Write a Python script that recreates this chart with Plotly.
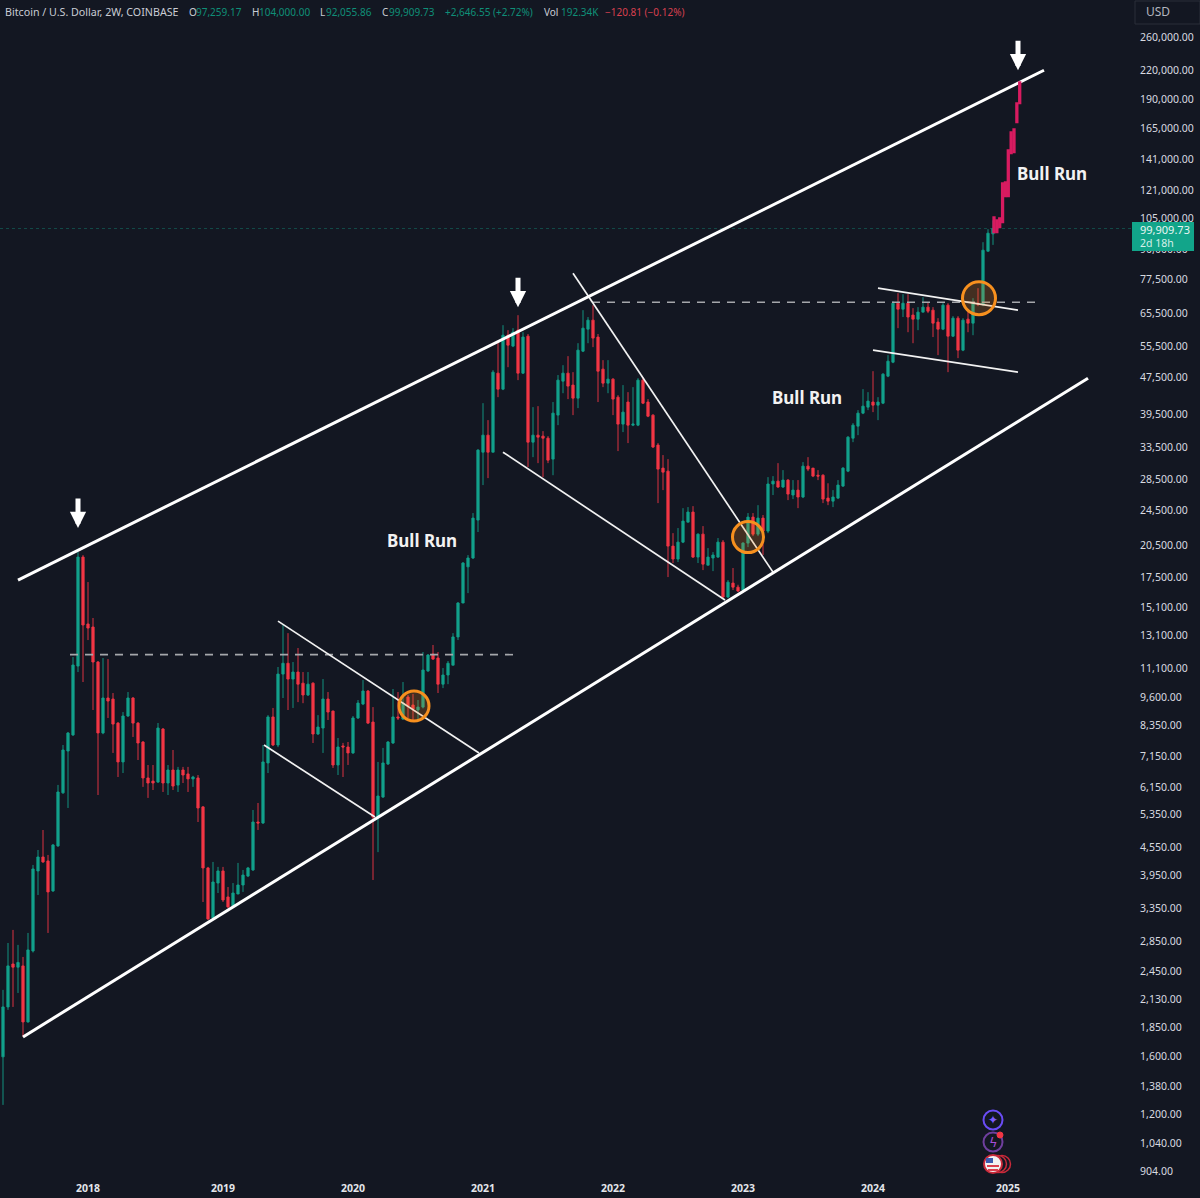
import numpy as np
import pandas as pd
import plotly.graph_objects as go

# ---------- candle data (2W BTC/USD) ----------
START = pd.Timestamp("2017-05-08")
STEP_DAYS = 14

opens = [
    1598,2050,2540,2500,2516,1902,2711,4042,4334,4249,
    3658,4580,5970,7356,7970,11240,19370,13870,13660,11470,
    8050,9585,9535,8455,6965,8760,9585,8455,7695,6430,
    6330,6300,8210,6270,6691,6205,6691,6560,6400,6430,
    5565,4103,3197,3805,4042,3550,3395,3602,3768,3940,
    4062,5160,5135,6930,8720,7580,10800,11400,10535,10910,
    10320,9730,10320,8007,8250,9535,8980,6860,7545,7505,
    7285,8675,9300,9925,8500,5290,5845,6895,7655,8720,
    8630,9630,9255,9026,9160,10970,11940,11700,10270,10750,
    11290,13000,15400,18450,19280,23300,32700,35600,32700,48520,
    44800,58640,55530,60136,48520,58360,34380,35600,35430,35070,
    31590,39350,46620,48520,45710,42830,54150,60440,63213,58100,
    49500,46160,47090,43040,37620,42000,37430,37430,46856,42000,
    39340,33880,30200,29750,20460,19180,20870,23060,24250,19370,
    21720,18600,19280,19370,20870,15870,17010,16670,16430,20770,
    23650,21720,23530,22050,27900,28300,27480,28447,26400,27060,
    26140,30500,30200,29150,29150,26000,25610,26000,27610,29750,
    35070,37240,39740,40950,42000,41360,41770,47800,51250,68790,
    66780,68790,64850,63530,65800,67460,66448,62600,60440,68130,
    58360,63850,54424,63530,62280,68790,68440,89200,97259.17,
]
highs = [
    2232,2821,3011,2794,2631,2966,4165,4488,4959,4378,
    4625,6210,7580,8090,11760,19860,19560,17100,14290,11530,
    11700,11640,9825,8500,8935,9875,9630,8500,7730,6860,
    6860,8460,8250,6860,7393,6795,6795,6795,6500,6525,
    5590,4125,4228,4124,4124,3730,3805,4207,4062,4124,
    5480,5675,7580,8800,9120,11190,13800,13250,11470,12300,
    10910,10910,10370,8800,10535,9875,9000,7850,7660,7695,
    8760,9488,10484,9975,9160,6965,7470,7730,10025,9875,
    10380,9730,9780,9488,12060,11940,12490,12060,11130,11530,
    13250,15470,18900,19560,24130,33200,41770,38377,49250,56640,
    61650,60136,60740,64800,59530,59000,40950,41150,36330,35430,
    42000,48060,50490,52820,48760,56350,66448,64200,68130,59000,
    51774,51774,47320,43470,45710,44130,45250,47320,47560,42620,
    39540,34220,32230,31590,21830,22390,24730,24860,24980,21800,
    22610,20260,19860,21300,21090,17270,18340,16870,20870,24130,
    24130,25100,23900,28870,29020,30960,29900,28590,28447,28447,
    31120,31900,30200,29900,29300,28000,27060,28447,30350,35430,
    37810,40341,44800,44130,49000,43040,48520,53090,69500,72330,
    71970,71970,67120,67460,70900,69150,67460,63850,68790,68790,
    64500,64500,63850,66448,70550,74160,93300,99550,104000,
]
lows = [
    1257,2020,2050,2198,1765,1895,2690,3585,4207,2966,
    3640,4558,5940,5535,7930,10910,10380,12800,9026,5905,
    8000,8675,7285,6460,6590,8720,7890,7033,6150,5820,
    6055,6270,5995,5905,6055,5995,6270,5995,6150,5160,
    3462,3165,3165,3620,3462,3360,3378,3602,3640,3920,
    4042,4959,5110,6590,7540,7500,9585,9026,9120,9390,
    9340,9680,7655,7970,7285,8587,6760,6525,6460,6860,
    7250,8630,9250,8415,3864,4440,5820,6860,7620,8587,
    8587,8675,8587,8587,9100,10920,11590,9825,10070,10270,
    11290,12800,15400,16180,19180,21950,27750,28730,32700,43040,
    44575,49990,55250,46856,48300,30360,31900,30960,28870,30960,
    29150,37430,43900,42620,39350,40750,53900,56350,55250,42000,
    45250,43900,39350,32880,36150,34220,37240,37240,41570,38950,
    33380,25360,27060,17530,18800,18900,20770,23060,19280,18800,
    18153,18600,18060,19280,15710,15790,16430,16270,16350,20360,
    21510,21510,19570,21830,26400,27340,27340,25744,25870,24730,
    26000,29750,28870,28447,25360,25100,24860,25870,27480,29600,
    34380,35600,39540,40341,39940,38377,41570,47560,51000,60740,
    64200,59530,56350,60136,65800,65480,58100,53090,60140,48760,
    58100,52300,54150,59530,58640,67800,67800,89000,92055.86,
]
closes = [
    2050,2516,2500,2560,1902,2725,4082,4334,4228,3640,
    4602,5995,7393,8047,11300,19370,13800,13590,11470,8050,
    9585,9440,8415,6965,8760,9585,8455,7655,6430,6270,
    6270,8250,6270,6691,6175,6691,6525,6400,6460,5535,
    4103,3181,3825,4042,3497,3378,3620,3768,3960,4103,
    5160,5135,6965,8720,7580,10800,11400,10535,10910,10270,
    9730,10270,8007,8290,9535,8935,6860,7505,7505,7285,
    8675,9345,9925,8455,5290,5875,6930,7695,8720,8675,
    9345,9210,9075,9160,11021,11880,11640,10270,10750,11400,
    13000,15400,18800,19280,23530,33040,35600,32700,48760,44800,
    58640,55800,59530,48520,58100,34380,35600,35250,35070,31430,
    39740,46856,48520,45480,42830,54424,60740,63213,57800,49000,
    46160,47090,42620,37620,39940,37430,37620,46856,41770,39140,
    33550,30050,29600,20460,19180,20870,23180,24250,19370,21720,
    18700,19370,19570,20870,15870,17090,16670,16350,20770,23650,
    21720,23530,22050,27900,28300,27480,28447,26530,27060,26140,
    30500,30050,29020,29020,25870,25610,26140,27750,30200,35250,
    37430,39740,41150,42200,41360,42000,48280,51510,68790,66780,
    68790,64200,63530,65800,67460,66120,62280,60440,68130,58360,
    63850,54424,63213,62280,68790,68440,89645,97580,99909.73,
]

# projected (hand-drawn) pink candles
proj_start_index = 198.2
proj_step_days = 8
proj_open = [98060,98060,100550,103100,117400,117400,145460,146200,169800,186700]
proj_close = [105700,104123,105170,125200,125800,147658,161530,163980,186700,207300]

# annotation drawing values: (candle index, price)
upper_channel = ([3, 208.2], [17270, 220111])
lower_channel = ([4, 217], [1765, 47320])
thin_lines = [
    ([55, 95.2], [14070, 7285]),
    ([52.2, 74.4], [7580, 5290]),
    ([100, 144.4], [32700, 15629]),
    ([114, 154], [79900, 17970]),
    ([175, 203], [74160, 66448]),
    ([174, 203], [54424, 48760]),
]
dashed_lines = [
    ([13.4, 102], [11900, 11900]),
    ([117.8, 207.4], [69150, 69150]),
]
circle_index = [82.2, 149, 195.2]
circle_price = [9210, 21400, 70550]
circle_size = [30, 31, 33]
arrow_index = [15, 103, 203]
arrow_tip = [22390, 67450, 220111]
bull_index = [83.8, 160.8, 209.8]
bull_price = [21086, 43040, 131600]
last_price = 99909.73

price_ticks = [904,1040,1200,1380,1600,1850,2130,2450,2850,3350,3950,4550,5350,6150,7150,8350,
               9600,11100,13100,15100,17500,20500,24500,28500,33500,39500,47500,55500,65500,
               77500,90000,105000,121000,141000,165000,190000,220000,260000]
year_index = [17, 44, 70, 96, 122, 148, 174, 201]
year_labels = ["2018", "2019", "2020", "2021", "2022", "2023", "2024", "2025"]

header_parts = [
    ("Bitcoin / U.S. Dollar, 2W, COINBASE", 3, "#c9ccd4", 10.7),
    ("O", 187, "#c9ccd4", 10), ("97,259.17", 194, "#0f8f78", 10),
    ("H", 250, "#c9ccd4", 10), ("104,000.00", 257, "#0f8f78", 10),
    ("L", 318, "#c9ccd4", 10), ("92,055.86", 324, "#0f8f78", 10),
    ("C", 380, "#c9ccd4", 10), ("99,909.73", 387, "#0f8f78", 10),
    ("+2,646.55 (+2.72%)", 443, "#0f8f78", 10),
    ("Vol", 542, "#c9ccd4", 10), ("192.34K", 559, "#0f8f78", 10),
    ("−120.81 (−0.12%)", 603, "#d8404f", 10),
]

# ---------- layout constants ----------
BG = "#131722"
GREEN = "#12a08a"
RED = "#f23645"
PINK = "#d81b60"
W, H, PLOT_W, PLOT_H = 1200, 1198, 1135, 1180


def when(i):
    return START + pd.Timedelta(days=STEP_DAYS * i)


def fx(px):
    return px / PLOT_W


def fy(py):
    return 1 - py / PLOT_H


dates = pd.date_range(START, periods=len(opens), freq=f"{STEP_DAYS}D")
proj_dates = pd.date_range(when(proj_start_index), periods=len(proj_open), freq=f"{proj_step_days}D")
x_range = [when(-0.6), when(226.4)]

fig = go.Figure()
fig.add_trace(go.Candlestick(
    x=dates, open=opens, high=highs, low=lows, close=closes, name="BTCUSD",
    increasing=dict(line=dict(color=GREEN, width=0.9), fillcolor=GREEN),
    decreasing=dict(line=dict(color=RED, width=0.9), fillcolor=RED),
    whiskerwidth=0,
))
fig.add_trace(go.Candlestick(
    x=proj_dates, open=proj_open, close=proj_close, xaxis="x2",
    high=proj_close, low=proj_open, name="Projection",
    increasing=dict(line=dict(color=PINK, width=2), fillcolor=PINK),
    decreasing=dict(line=dict(color=PINK, width=2), fillcolor=PINK),
    whiskerwidth=0,
))


def add_line(xs, ys, **line):
    fig.add_trace(go.Scatter(x=[when(i) for i in xs], y=ys, mode="lines",
                             line=line, hoverinfo="skip"))


add_line([-0.6, 226.4], [last_price, last_price], color="rgba(18,160,138,0.38)", width=1, dash="dot")
for xs, ys in dashed_lines:
    add_line(xs, ys, color="#a5a7ab", width=1.6, dash="8px,7px")
for xs, ys in thin_lines:
    add_line(xs, ys, color="#f2f2f2", width=1.7)
add_line(*upper_channel, color="#ffffff", width=3)
add_line(*lower_channel, color="#ffffff", width=3)

fig.add_trace(go.Scatter(
    x=[when(i) for i in circle_index], y=circle_price, mode="markers", hoverinfo="skip",
    marker=dict(symbol="circle", size=circle_size, color="rgba(240,138,30,0.22)", opacity=1,
                line=dict(color="#f7901e", width=3)),
))

annotations = []
for i, p in zip(arrow_index, arrow_tip):
    annotations.append(dict(x=when(i), y=np.log10(p), xref="x", yref="y", text="", showarrow=True,
                            ax=0, ay=-31, arrowcolor="#ffffff", arrowwidth=5, arrowhead=2, arrowsize=0.65))
for i, p in zip(bull_index, bull_price):
    annotations.append(dict(x=when(i), y=np.log10(p), xref="x", yref="y", text="<b>Bull Run</b>",
                            showarrow=False, font=dict(family="Noto Sans", size=17, color="#f2f2f2")))
for text, px, color, size in header_parts:
    annotations.append(dict(x=fx(px), y=fy(12), xref="paper", yref="paper", xanchor="left", yanchor="middle",
                            text=text, showarrow=False,
                            font=dict(family="Noto Sans", size=size, color=color)))
annotations.append(dict(x=fx(1144), y=fy(12), xref="paper", yref="paper", xanchor="left", yanchor="middle",
                        text="USD", showarrow=False, font=dict(family="Noto Sans", size=12, color="#b2b5be")))
annotations.append(dict(x=fx(1139), y=fy(229), xref="paper", yref="paper", xanchor="left", yanchor="middle",
                        text="99,909.73", showarrow=False, borderpad=0,
                        font=dict(family="Noto Sans", size=11, color="#e9f6f3")))
annotations.append(dict(x=fx(1139), y=fy(243), xref="paper", yref="paper", xanchor="left", yanchor="middle",
                        text="2d 18h", showarrow=False, borderpad=0,
                        font=dict(family="Noto Sans", size=10.5, color="#d6efe9")))
annotations.append(dict(x=fx(993), y=fy(1120), xref="paper", yref="paper", xanchor="center", yanchor="middle",
                        text="✦", showarrow=False, font=dict(family="DejaVu Sans", size=12, color="#7c5cff")))
annotations.append(dict(x=fx(993), y=fy(1142), xref="paper", yref="paper", xanchor="center", yanchor="middle",
                        text="ϟ", showarrow=False, font=dict(family="DejaVu Sans", size=13, color="#a64dd6")))


def circle(cx, cy, r, line, fill="rgba(0,0,0,0)", width=1.5):
    return dict(type="circle", xref="paper", yref="paper", x0=fx(cx - r), x1=fx(cx + r),
                y0=fy(cy + r), y1=fy(cy - r), line=dict(color=line, width=width), fillcolor=fill, layer="above")


def rect(x0, y0, x1, y1, fill, line="rgba(0,0,0,0)", width=0):
    return dict(type="rect", xref="paper", yref="paper", x0=fx(x0), x1=fx(x1), y0=fy(y1), y1=fy(y0),
                line=dict(color=line, width=width), fillcolor=fill, layer="above")


shapes = [
    rect(1135, 1, 1200, 24, BG, "#2a2e39", 1),
    rect(1132, 222, 1194, 251, "#12a58a"),
    circle(993, 1120, 9.5, "#6a4cf5", "rgba(0,0,0,0)", 2),
    circle(993, 1142, 9.5, "#6f3f9e", "rgba(0,0,0,0)", 2),
    circle(1000, 1135, 3, RED, RED, 1),
    circle(1002, 1164, 8.5, "#c92a3a", BG, 1.5),
    circle(998, 1164, 8.5, "#c92a3a", BG, 1.5),
    circle(993, 1164, 9, "#c92a3a", "#f2f2f2", 2),
    rect(986, 1158, 993, 1163, "#3a5bb0"),
    rect(987, 1165, 999, 1167, "#d9404f"),
    rect(988, 1169, 998, 1171, "#d9404f"),
]

fig.update_layout(
    width=W, height=H, autosize=False,
    margin=dict(l=0, r=W - PLOT_W, t=0, b=H - PLOT_H),
    paper_bgcolor=BG, plot_bgcolor=BG, showlegend=False, boxgap=0.35,
    annotations=annotations, shapes=shapes,
    xaxis=dict(
        type="date", range=x_range, rangeslider=dict(visible=False),
        tickmode="array", tickvals=[when(i) for i in year_index], ticktext=year_labels,
        showgrid=False, zeroline=False, showline=False, ticks="",
        tickfont=dict(family="Noto Sans", size=10.5, color="#e4e6eb", weight="bold"),
    ),
    xaxis2=dict(
        type="date", range=x_range, overlaying="x", visible=False,
        rangeslider=dict(visible=False),
    ),
    yaxis=dict(
        type="log", side="right", range=[2.9365, 5.495],
        tickmode="array", tickvals=price_ticks, tickformat=",.2f",
        showgrid=False, zeroline=False, showline=False, ticks="outside", ticklen=2, tickcolor=BG,
        tickfont=dict(family="Noto Sans", size=10.5, color="#d8dae0"),
    ),
)

fig.write_html("out.html", config={"displayModeBar": False},
               post_script="document.body.style.margin='0';")
